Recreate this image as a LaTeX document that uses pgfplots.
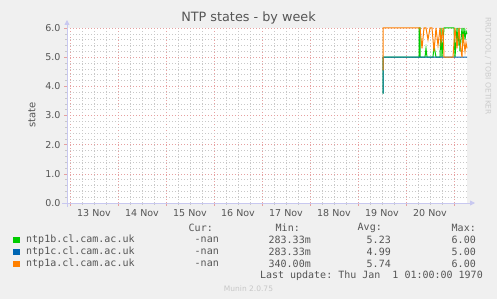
\documentclass[border=0pt]{standalone}
\usepackage{pgfplots}
\pgfplotsset{compat=1.18}
\usepackage{fontspec}
\setmainfont{DejaVu Sans}
\setmonofont{DejaVu Sans Mono}
\usetikzlibrary{arrows.meta}
\definecolor{bgc}{HTML}{F0F0F0}
\definecolor{gridred}{HTML}{E6A0A0}
\definecolor{gridgray}{HTML}{C8C8C8}
\definecolor{axisblue}{HTML}{C8C8F0}
\definecolor{txt}{HTML}{555555}
\definecolor{cgreen}{HTML}{00CC00}
\definecolor{cblue}{HTML}{0066B3}
\definecolor{corange}{HTML}{FF8000}
\begin{document}
\begin{tikzpicture}[x=1pt,y=1pt]
\fill[bgc] (0,0) rectangle (497,299);
\begin{axis}[
  at={(67pt,96pt)}, anchor=south west,
  scale only axis, width=400pt, height=175pt,
  xmin=12.9375, xmax=21.2708, ymin=0, ymax=6,
  clip=false,
  axis background/.style={fill=white},
  xtick={13,...,21},
  xticklabels={13 Nov,14 Nov,15 Nov,16 Nov,17 Nov,18 Nov,19 Nov,20 Nov,{}},
  xticklabel style={xshift=24pt, font=\fontsize{9.5}{11}\selectfont, text=txt},
  minor x tick num=3,
  ytick={0,1,...,6},
  minor y tick num=4,
  yticklabel style={font=\fontsize{9.5}{11}\selectfont, text=txt,
    /pgf/number format/fixed, /pgf/number format/fixed zerofill,
    /pgf/number format/precision=1},
  /pgf/number format/assume math mode=true,
  grid=both,
  major grid style={dash pattern=on 1pt off 2pt, color=gridred, line width=0.5pt},
  minor grid style={dash pattern=on 1pt off 2pt, color=gridgray, line width=0.5pt},
  axis x line=bottom, axis y line=left,
  x axis line style={color=axisblue, line width=0.8pt, shorten >=-8pt, shorten <=-5pt, -{Triangle[length=5pt,width=5pt]}},
  y axis line style={color=axisblue, line width=0.8pt, shorten >=-8pt, shorten <=-4pt, -{Triangle[length=5pt,width=5pt]}},
  tick align=outside,
  major tick length=3pt, minor tick length=2pt,
  major tick style={color=gridred, line width=0.5pt},
  minor tick style={color=gridgray, line width=0.5pt},
  every axis plot/.append style={line width=1pt, mark=none},
]
\addplot[cgreen] coordinates {
(19.5208,3.75) (19.5215,5.0) (20.2708,5.0) (20.2750,6.0) (20.2917,6.0) (20.2958,5.0)
(20.3958,5.0) (20.4167,5.3) (20.4375,5.0) (20.5625,5.0) (20.5833,5.4) (20.625,5.0)
(20.7083,5.0) (20.7292,6.0) (20.75,5.0) (20.7917,6.0) (21.0,6.0) (21.0208,5.0)
(21.0625,6.0) (21.0833,5.4) (21.1042,6.0) (21.125,5.2) (21.1667,6.0) (21.1875,5.5)
(21.2083,6.0) (21.2292,5.6) (21.25,5.9) (21.2708,5.8)
};
\addplot[cblue] coordinates {
(19.5208,3.75) (19.5215,5.0) (21.2708,5.0)
};
\addplot[corange] coordinates {
(19.5208,4.55) (19.5215,6.0) (20.2917,6.0) (20.3333,5.3) (20.375,6.0) (20.4167,6.0)
(20.4583,5.6) (20.5,6.0) (20.5417,6.0) (20.5833,5.2) (20.625,6.0) (20.6667,5.4)
(20.7083,6.0) (20.7292,5.5) (20.7708,6.0) (20.7917,5.0) (20.9792,5.0) (21.0208,6.0)
(21.0625,5.3) (21.1042,6.0) (21.125,5.5) (21.1667,5.0) (21.1875,5.8) (21.2292,5.2)
(21.25,5.5) (21.2708,5.3)
};
\end{axis}
% titles
\node[text=txt, font=\fontsize{12.8}{14}\selectfont] at (248.5,281) {NTP states - by week};
\node[text=txt, font=\fontsize{10}{12}\selectfont, rotate=90] at (32,184) {state};
\node[text=black!20, font=\fontsize{7.6}{9}\selectfont, rotate=-90, anchor=west, inner sep=0] at (488,282) {RRDTOOL / TOBI OETIKER};
% legend
\begin{scope}[every node/.style={font=\ttfamily\fontsize{10}{12}\selectfont, text=txt, inner sep=0}]
\node[anchor=east] at (213,71) {Cur:};
\node[anchor=east] at (300,71) {Min:};
\node[anchor=east] at (382,71) {Avg:};
\node[anchor=east] at (476,71) {Max:};
\fill[cgreen] (13.3,56) rectangle (19.7,62.4);
\fill[cblue] (13.3,44) rectangle (19.7,50.4);
\fill[corange] (13.3,32) rectangle (19.7,38.4);
\node[anchor=west] at (26,59) {ntp1b.cl.cam.ac.uk};
\node[anchor=west] at (26,47) {ntp1c.cl.cam.ac.uk};
\node[anchor=west] at (26,35) {ntp1a.cl.cam.ac.uk};
\node[anchor=east] at (219,59) {-nan};
\node[anchor=east] at (219,47) {-nan};
\node[anchor=east] at (219,35) {-nan};
\node[anchor=east] at (311,59) {283.33m};
\node[anchor=east] at (311,47) {283.33m};
\node[anchor=east] at (311,35) {340.00m};
\node[anchor=east] at (391,59) {5.23};
\node[anchor=east] at (391,47) {4.99};
\node[anchor=east] at (391,35) {5.74};
\node[anchor=east] at (476,59) {6.00};
\node[anchor=east] at (476,47) {5.00};
\node[anchor=east] at (476,35) {6.00};
\node[anchor=east] at (483,23.7) {Last update: Thu Jan\ \ 1 01:00:00 1970};
\end{scope}
\node[text=black!22, font=\fontsize{7.5}{9}\selectfont] at (248.5,10.7) {Munin 2.0.75};
\end{tikzpicture}
\end{document}
